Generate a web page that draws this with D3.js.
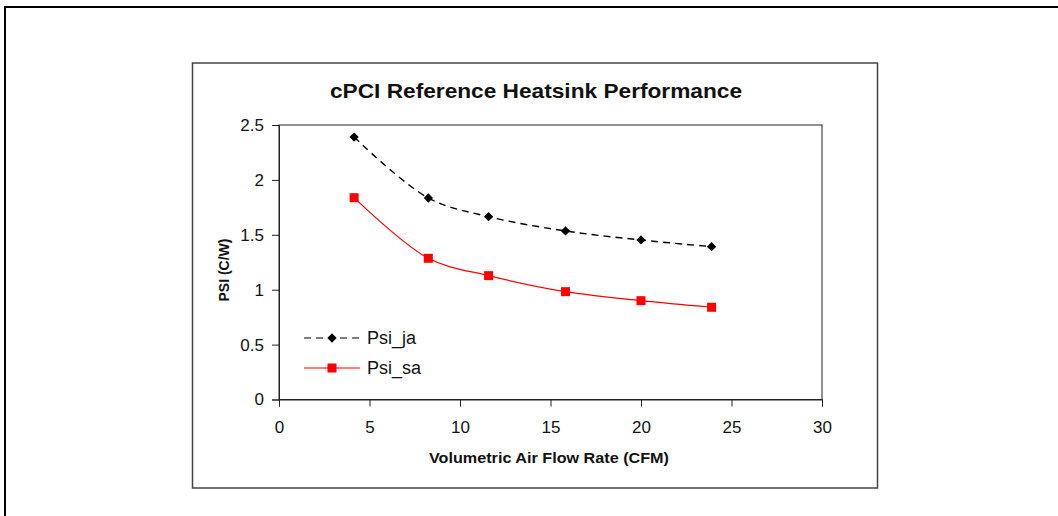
<!DOCTYPE html>
<html lang="en">
<head>
    <meta charset="UTF-8">
    <title>cPCI Reference Heatsink Performance</title>
    <style>
        body { margin: 0; background: #fff; }
        svg text { font-family: Arial, "Liberation Sans", sans-serif; fill: #111; }
    </style>
</head>
<body>
<script src="https://d3js.org/d3.v7.min.js"></script>

<div id="my_chart"></div>

<script type="text/javascript">

    // data
    var airFlow = [4.15, 8.25, 11.58, 15.83, 20.0, 23.9];
    var psiJa = [2.39, 1.835, 1.665, 1.535, 1.453, 1.392];
    var psiSa = [1.838, 1.286, 1.128, 0.982, 0.90, 0.84];
    var seriesNames = ["Psi_ja", "Psi_sa"];
    var xTicks = [0, 5, 10, 15, 20, 25, 30];
    var yTicks = [0, 0.5, 1, 1.5, 2, 2.5];

    var W = 1058, H = 516;
    var margin = { top: 125, right: 236, bottom: 116.5, left: 279 },
        width = W - margin.left - margin.right,
        height = H - margin.top - margin.bottom;

    var root = d3.select("#my_chart")
        .append("svg")
        .attr("width", W)
        .attr("height", H);

    // outer frame (runs off the right and bottom)
    root.append("rect")
        .attr("x", 5).attr("y", 7)
        .attr("width", W + 10).attr("height", H + 10)
        .attr("fill", "none")
        .attr("stroke", "#000")
        .attr("stroke-width", 2);

    // chart box
    root.append("rect")
        .attr("x", 192.5).attr("y", 63)
        .attr("width", 685).attr("height", 425)
        .attr("fill", "#fff")
        .attr("stroke", "#444")
        .attr("stroke-width", 1.5);

    var svg = root.append("g")
        .attr("transform", "translate(" + margin.left + "," + margin.top + ")");

    var x = d3.scaleLinear().domain([0, 30]).range([0, width]);
    var y = d3.scaleLinear().domain([0, 2.5]).range([height, 0]);

    // plot area border
    svg.append("rect")
        .attr("x", 0).attr("y", 0)
        .attr("width", width).attr("height", height)
        .attr("fill", "none")
        .attr("stroke", "#222")
        .attr("stroke-width", 1);

    // axes
    var xAxis = svg.append("g")
        .attr("transform", "translate(0," + height + ")")
        .call(d3.axisBottom(x).tickValues(xTicks).tickSize(7).tickPadding(14).tickFormat(d3.format("d")));
    var yAxis = svg.append("g")
        .call(d3.axisLeft(y).tickValues(yTicks).tickSize(7).tickPadding(8).tickFormat(function(d) { return d; }));

    [xAxis, yAxis].forEach(function(a) {
        a.selectAll("path, line").attr("stroke", "#222");
        a.selectAll("text")
            .style("font-size", "17px")
            .style("font-family", "Arial, 'Liberation Sans', sans-serif")
            .attr("fill", "#222");
    });

    // series
    var rows = airFlow.map(function(v, i) { return { x: v, ja: psiJa[i], sa: psiSa[i] }; });

    var line = function(key) {
        return d3.line()
            .x(function(d) { return x(d.x); })
            .y(function(d) { return y(d[key]); })
            .curve(d3.curveCatmullRom.alpha(0.5));
    };

    svg.append("path")
        .datum(rows)
        .attr("d", line("ja"))
        .attr("fill", "none")
        .attr("stroke", "#000")
        .attr("stroke-width", 1.4)
        .attr("stroke-dasharray", "7,5");

    svg.append("path")
        .datum(rows)
        .attr("d", line("sa"))
        .attr("fill", "none")
        .attr("stroke", "#ff0000")
        .attr("stroke-width", 1.2);

    var diamond = d3.symbol().type(d3.symbolDiamond2).size(55);

    svg.selectAll(".mja")
        .data(rows)
        .enter().append("path")
        .attr("class", "mja")
        .attr("transform", function(d) { return "translate(" + x(d.x) + "," + y(d.ja) + ")"; })
        .attr("d", diamond)
        .attr("fill", "#000");

    svg.selectAll(".msa")
        .data(rows)
        .enter().append("rect")
        .attr("class", "msa")
        .attr("x", function(d) { return x(d.x) - 4.5; })
        .attr("y", function(d) { return y(d.sa) - 4.5; })
        .attr("width", 9).attr("height", 9)
        .attr("fill", "#ff0000");

    // legend
    var legend = root.append("g").attr("transform", "translate(304,338)");
    seriesNames.forEach(function(name, i) {
        var g = legend.append("g").attr("transform", "translate(0," + (i * 30) + ")");
        g.append("line")
            .attr("x1", 0).attr("x2", 56).attr("y1", 0).attr("y2", 0)
            .attr("stroke", i === 0 ? "#000" : "#ff0000")
            .attr("stroke-width", 1.2)
            .attr("stroke-dasharray", i === 0 ? "7,5" : null);
        if (i === 0) {
            g.append("path").attr("transform", "translate(28,0)").attr("d", diamond).attr("fill", "#000");
        } else {
            g.append("rect").attr("x", 23.5).attr("y", -4.5).attr("width", 9).attr("height", 9).attr("fill", "#ff0000");
        }
        g.append("text")
            .attr("x", 63).attr("y", 6)
            .style("font-size", "18px")
            .text(name);
    });

    // title
    root.append("text")
        .attr("x", 536).attr("y", 98)
        .attr("text-anchor", "middle")
        .attr("textLength", 412)
        .attr("lengthAdjust", "spacingAndGlyphs")
        .style("font-size", "20px")
        .style("font-weight", "bold")
        .text("cPCI Reference Heatsink Performance");

    // axis titles
    root.append("text")
        .attr("x", 549).attr("y", 463)
        .attr("text-anchor", "middle")
        .attr("textLength", 240)
        .attr("lengthAdjust", "spacingAndGlyphs")
        .style("font-size", "14px")
        .style("font-weight", "bold")
        .text("Volumetric Air Flow Rate (CFM)");

    root.append("text")
        .attr("transform", "translate(229,270) rotate(-90)")
        .attr("text-anchor", "middle")
        .style("font-size", "14px")
        .style("font-weight", "bold")
        .text("PSI (C/W)");

</script>
</body>
</html>
